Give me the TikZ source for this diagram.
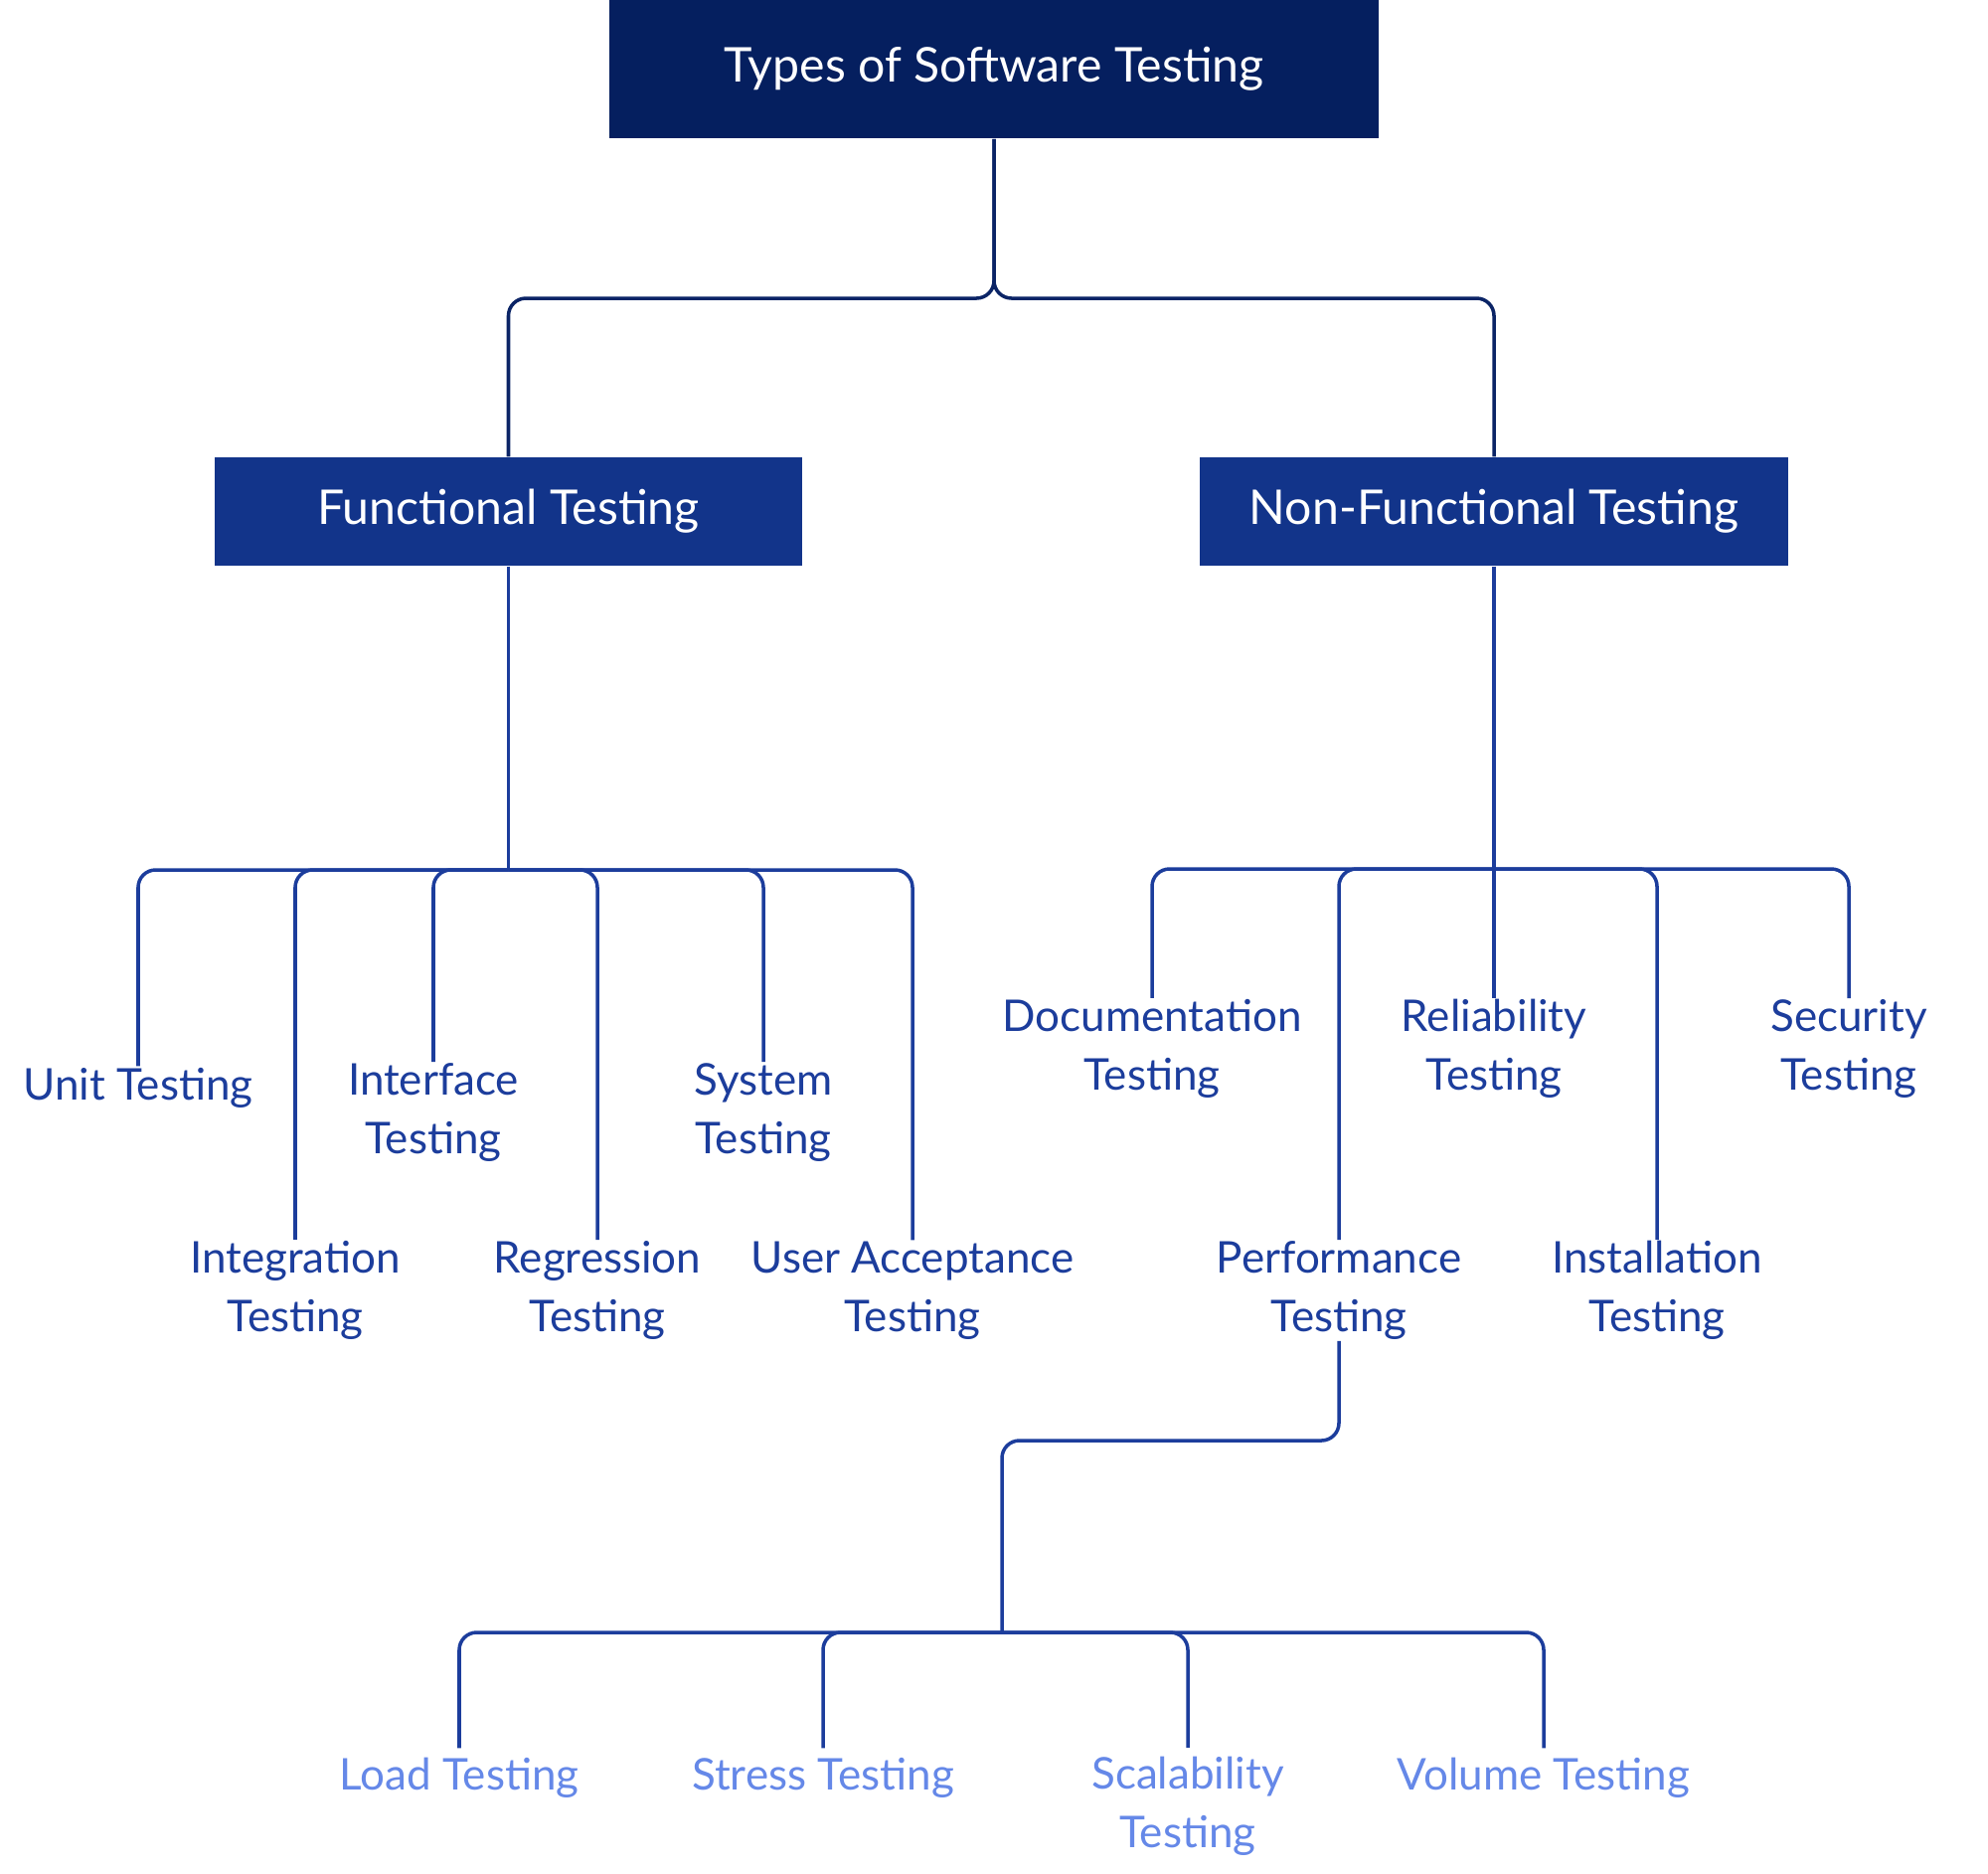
\documentclass[tikz,border=0pt]{standalone}
\usepackage{fontspec}
\setmainfont{Lato}
\definecolor{rootc}{HTML}{051F5F}
\definecolor{lvlc}{HTML}{12348A}
\definecolor{linetop}{HTML}{0B2466}
\definecolor{linec}{HTML}{1C3D9C}
\definecolor{childc}{HTML}{1C3D9C}
\definecolor{leafc}{HTML}{6588E8}
\begin{document}
\begin{tikzpicture}[x=0.01cm,y=-0.01cm,
  rootbox/.style={fill=rootc,text=white,minimum width=7.73cm,minimum height=1.39cm,inner sep=0pt,font=\fontsize{13.7}{16.8}\selectfont},
  lvlbox/.style={fill=lvlc,text=white,minimum width=5.91cm,minimum height=1.09cm,inner sep=0pt,font=\fontsize{13.7}{16.8}\selectfont},
  child/.style={text=childc,align=center,inner sep=0.2pt,font=\fontsize{12.5}{16.8}\selectfont},
  leaf/.style={text=leafc,align=center,inner sep=2.5pt,font=\fontsize{12.5}{16.8}\selectfont},
  conn/.style={draw=linec,line width=1pt,rounded corners=5pt},
  conntop/.style={draw=linetop,line width=1pt,rounded corners=5pt}]
\useasboundingbox (0,0) rectangle (2000,1884);
% boxes
\node[rootbox] (root) at (1000,69.5) {Types of Software Testing};
\node[lvlbox] (fun) at (511.5,514.5) {Functional Testing};
\node[lvlbox] (nf) at (1503,514.5) {Non-Functional Testing};
% functional children
\node[child] (unit) at (139,1094) {Unit Testing};
\node[child] (integ) at (297,1298) {Integration\\Testing};
\node[child] (iface) at (436,1119) {Interface\\Testing};
\node[child] (regr) at (601,1298) {Regression\\Testing};
\node[child] (sys) at (768,1119) {System\\Testing};
\node[child] (uat) at (918,1298) {User Acceptance\\Testing};
% non-functional children
\node[child] (doc) at (1159,1055) {Documentation\\Testing};
\node[child] (perf) at (1347,1298) {Performance\\Testing};
\node[child] (rel) at (1503,1055) {Reliability\\Testing};
\node[child] (inst) at (1667,1298) {Installation\\Testing};
\node[child] (sec) at (1860,1055) {Security\\Testing};
% performance leaves
\node[leaf] (load) at (462,1788) {Load Testing};
\node[leaf] (stress) at (828,1788) {Stress Testing};
\node[leaf] (scal) at (1195,1817) {Scalability\\Testing};
\node[leaf] (vol) at (1553,1788) {Volume Testing};
% coordinates
\coordinate (rb) at (1000,300);
\coordinate (fbus) at (511.5,875);
\coordinate (nbus) at (1503,874);
\coordinate (pb1) at (1008,1449);
\coordinate (pbus) at (1008,1642);
% top connectors
\draw[conntop] (root.south) -- (rb) -| (fun.north);
\draw[conntop] (root.south) -- (rb) -| (nf.north);
% functional
\draw[conn] (fun.south) -- (fbus);
\foreach \c in {unit,integ,iface,regr,sys,uat} \draw[conn] (fbus) -| (\c.north);
% non-functional
\draw[conn] (nf.south) -- (rel.north);
\foreach \c in {doc,perf,inst,sec} \draw[conn] (nbus) -| (\c.north);
% performance
\draw[conn] (perf.south) |- (pb1) -- (pbus);
\foreach \c in {load,stress,scal,vol} \draw[conn] (pbus) -| (\c.north);
\end{tikzpicture}
\end{document}
